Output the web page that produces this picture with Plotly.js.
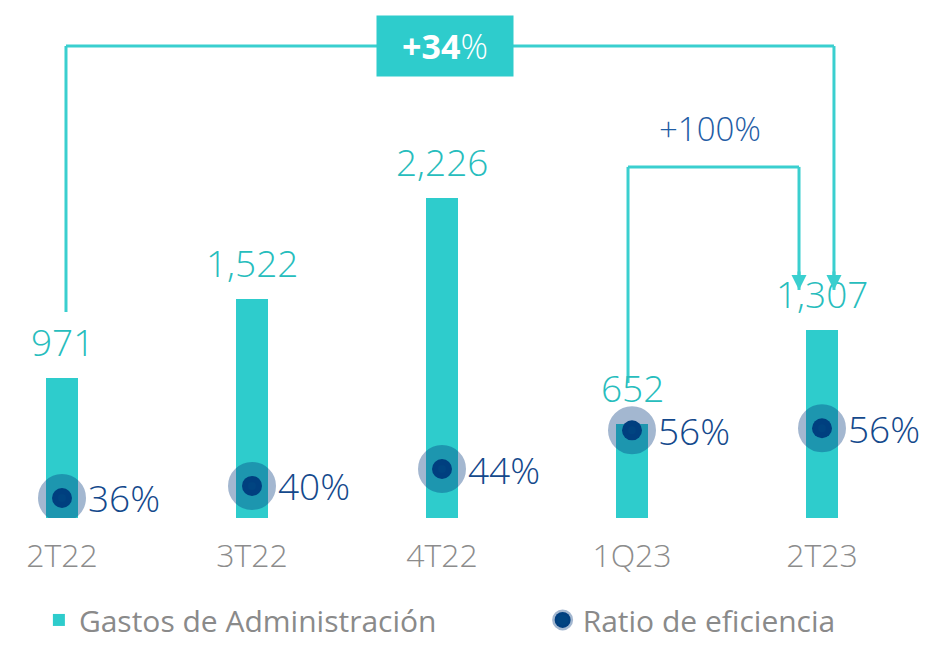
<!DOCTYPE html>
<html>
<head>
<meta charset="utf-8">
<script src="https://cdn.plot.ly/plotly-3.0.1.min.js"></script>
<style>
  html, body { margin: 0; padding: 0; background: #ffffff; }
  #chart { width: 926px; height: 647px; }
</style>
</head>
<body>
<div id="chart"></div>
<script>
// ---- Data ----
const categories = ['2T22', '3T22', '4T22', '1Q23', '2T23'];
const gastos = [971, 1522, 2226, 652, 1307];
const gastosLabels = ['971', '1,522', '2,226', '652', '1,307'];
const ratio = [36, 39.5, 44.4, 55.6, 56.2];
const ratioLabels = ['36%', '40%', '44%', '56%', '56%'];
const seriesNames = ['Gastos de Administración', 'Ratio de eficiencia'];
const growthLabels = ['+34', '+100%'];

// ---- Styles ----
const TEAL = '#2ECCCC';
const TEAL_TEXT = '#27BDBD';
const NAVY = '#004481';
const NAVY_TEXT = '#14498C';
const GRAY = '#8C8C8C';
const FONT = 'Open Sans, Lato, sans-serif';

const xIdx = categories.map((c, i) => i);

const traces = [
  {
    type: 'bar',
    x: xIdx,
    y: gastos,
    name: seriesNames[0],
    width: 0.168,
    marker: { color: TEAL },
    legend: 'legend',
    hoverinfo: 'skip'
  },
  {
    type: 'scatter',
    mode: 'markers',
    x: xIdx,
    y: ratio,
    yaxis: 'y2',
    name: seriesNames[1],
    legend: 'legend2',
    marker: { size: 20, color: NAVY, line: { width: 28, color: 'rgba(0,56,125,0.36)' } },
    hoverinfo: 'skip'
  }
];

const annotations = [];
// bar value labels
gastos.forEach((v, i) => {
  annotations.push({
    x: i, y: v, xref: 'x', yref: 'y', text: gastosLabels[i], showarrow: false,
    yanchor: 'bottom', yshift: 9,
    font: { family: FONT, size: 37, color: TEAL_TEXT, weight: 300 }
  });
});
// ratio labels
ratio.forEach((v, i) => {
  annotations.push({
    x: i, y: v, xref: 'x', yref: 'y2', text: ratioLabels[i], showarrow: false,
    xanchor: 'left', yanchor: 'middle', xshift: 24,
    font: { family: FONT, size: 37, color: NAVY_TEXT, weight: 300 }
  });
});

// brackets (annotation geometry, in category index / y units)
const br1 = { x0: 0.021, x1: 4.063, yTop: 3280, y0: 1432, tip: 1585 };
const br2 = { x0: 2.979, x1: 3.879, yTop: 2440, y0: 938, tip: 1585 };
const LINE = { color: '#3ACFCF', width: 3 };
const shapes = [
  { type: 'line', xref: 'x', yref: 'y', x0: br1.x0, x1: br1.x0, y0: br1.y0, y1: br1.yTop, line: LINE },
  { type: 'line', xref: 'x', yref: 'y', x0: br1.x0, x1: br1.x1, y0: br1.yTop, y1: br1.yTop, line: LINE },
  { type: 'line', xref: 'x', yref: 'y', x0: br1.x1, x1: br1.x1, y0: br1.yTop, y1: br1.tip, line: LINE },
  { type: 'line', xref: 'x', yref: 'y', x0: br2.x0, x1: br2.x0, y0: br2.y0, y1: br2.yTop, line: LINE },
  { type: 'line', xref: 'x', yref: 'y', x0: br2.x0, x1: br2.x1, y0: br2.yTop, y1: br2.yTop, line: LINE },
  { type: 'line', xref: 'x', yref: 'y', x0: br2.x1, x1: br2.x1, y0: br2.yTop, y1: br2.tip, line: LINE }
];
// arrowheads
[br1, br2].forEach(b => {
  annotations.push({
    x: b.x1, y: b.tip, xref: 'x', yref: 'y', ax: 0, ay: -20, text: '',
    showarrow: true, arrowhead: 2, arrowsize: 1, arrowwidth: 3, arrowcolor: '#3ACFCF', standoff: 0
  });
});
// +34% box
annotations.push({
  x: 2.016, y: br1.yTop, xref: 'x', yref: 'y', showarrow: false,
  text: '<b>' + growthLabels[0] + '</b><span style="font-weight:300">%</span>',
  width: 136, height: 60, bgcolor: TEAL, borderpad: 0,
  xanchor: 'center', yanchor: 'middle',
  font: { family: FONT, size: 34, color: '#ffffff' }
});
// +100% label
annotations.push({
  x: 3.41, y: 2710, xref: 'x', yref: 'y', showarrow: false,
  text: growthLabels[1], xanchor: 'center', yanchor: 'middle',
  font: { family: FONT, size: 33, color: '#1F5DA5', weight: 300 }
});

const legendFont = { family: FONT, size: 30, color: '#8A8A8A' };

const layout = {
  width: 926, height: 647, autosize: false,
  margin: { l: 0, r: 0, t: 0, b: 129, pad: 0, autoexpand: false },
  paper_bgcolor: '#ffffff', plot_bgcolor: '#ffffff',
  showlegend: true,
  legend: {
    orientation: 'h', x: 0.042, xanchor: 'left', y: -0.247, yanchor: 'bottom',
    font: legendFont, bgcolor: 'rgba(0,0,0,0)'
  },
  legend2: {
    orientation: 'h', x: 0.586, xanchor: 'left', y: -0.247, yanchor: 'bottom',
    font: legendFont, bgcolor: 'rgba(0,0,0,0)'
  },
  xaxis: {
    type: 'linear', range: [-0.32632, 4.54737],
    tickmode: 'array', tickvals: xIdx, ticktext: categories,
    showgrid: false, zeroline: false, showline: false, ticks: '',
    ticklabelstandoff: 16,
    tickfont: { family: FONT, size: 32, color: GRAY, weight: 300 },
    fixedrange: true
  },
  yaxis: { range: [0, 3600], visible: false, showgrid: false, zeroline: false, fixedrange: true },
  yaxis2: { range: [30.2, 180.3], overlaying: 'y', visible: false, showgrid: false, zeroline: false, fixedrange: true },
  shapes: shapes,
  annotations: annotations,
  bargap: 0
};

Plotly.newPlot('chart', traces, layout, { staticPlot: true, displayModeBar: false });
</script>
</body>
</html>
